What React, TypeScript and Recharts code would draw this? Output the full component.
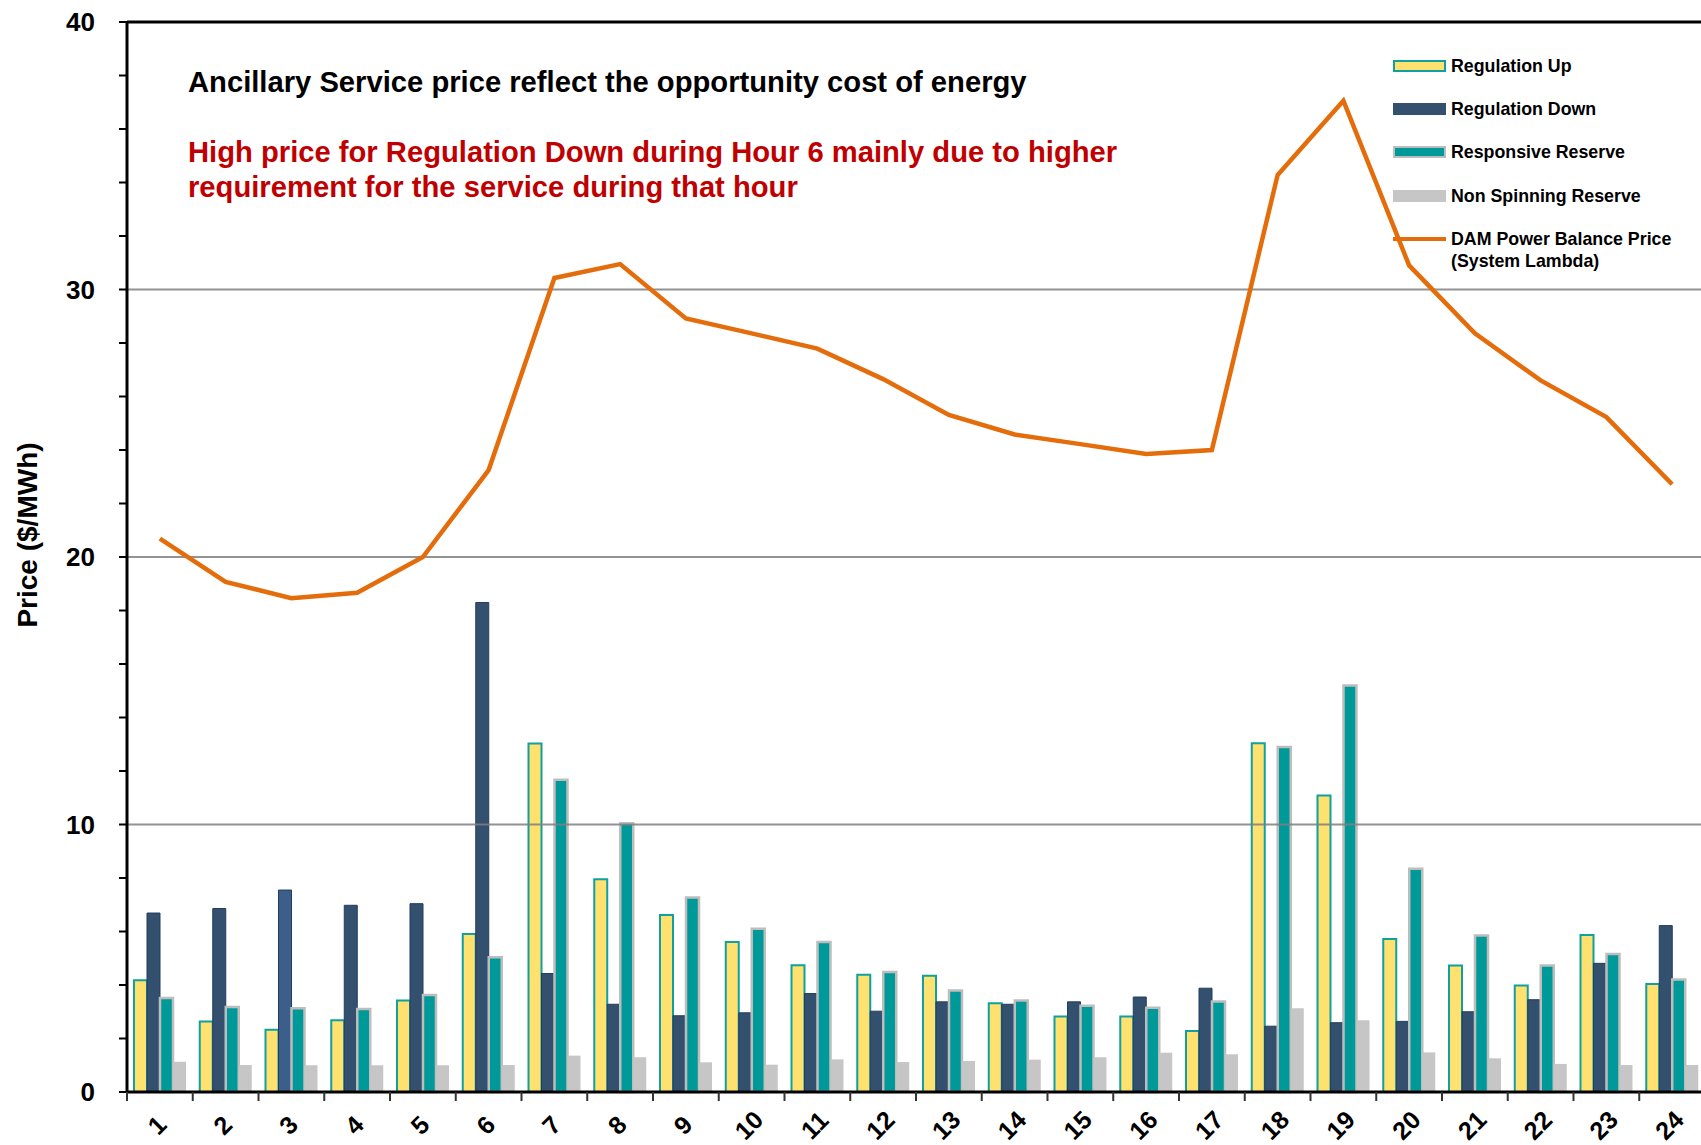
import React from "react";
import { ComposedChart, Bar, Line, XAxis, YAxis, ReferenceLine, Legend, Cell } from "recharts";

const hours = [1, 2, 3, 4, 5, 6, 7, 8, 9, 10, 11, 12, 13, 14, 15, 16, 17, 18, 19, 20, 21, 22, 23, 24];
const regUp = [4.18, 2.64, 2.33, 2.68, 3.42, 5.91, 13.03, 7.95, 6.62, 5.61, 4.74, 4.38, 4.35, 3.32, 2.82, 2.82, 2.28, 13.04, 11.08, 5.72, 4.73, 3.98, 5.87, 4.04];
const regDown = [6.69, 6.86, 7.55, 6.98, 7.04, 18.3, 4.43, 3.28, 2.85, 2.96, 3.68, 3.02, 3.37, 3.28, 3.37, 3.55, 3.88, 2.46, 2.59, 2.64, 3.0, 3.45, 4.81, 6.22];
const respReserve = [3.51, 3.18, 3.13, 3.1, 3.63, 5.04, 11.67, 10.05, 7.27, 6.1, 5.61, 4.49, 3.79, 3.42, 3.22, 3.15, 3.38, 12.9, 15.2, 8.35, 5.85, 4.73, 5.16, 4.21];
const nonSpin = [1.13, 1.01, 1.0, 1.0, 1.0, 1.01, 1.36, 1.3, 1.11, 1.02, 1.22, 1.12, 1.16, 1.21, 1.3, 1.47, 1.41, 3.13, 2.68, 1.48, 1.26, 1.05, 1.01, 1.01];
const systemLambda = [20.69, 19.07, 18.46, 18.66, 20.0, 23.25, 30.43, 30.95, 28.92, 28.36, 27.79, 26.65, 25.31, 24.58, 24.22, 23.85, 24.0, 34.28, 37.06, 30.9, 28.36, 26.6, 25.23, 22.72];

const yTicks = [0, 2, 4, 6, 8, 10, 12, 14, 16, 18, 20, 22, 24, 26, 28, 30, 32, 34, 36, 38, 40];
const yLabelTicks = [0, 10, 20, 30, 40];
const gridValues = [10, 20, 30];

const FONT = "'Liberation Sans', Arial, Helvetica, sans-serif";
const C_YELLOW = "#FFE16F";
const C_TEALBORDER = "#10A0A0";
const C_NAVY = "#33506F";
const C_NAVY_LIGHT = "#3B5F8A";
const C_TEAL = "#009999";
const C_GRAYBORDER = "#BDBDBD";
const C_GRAY = "#C6C6C6";
const C_ORANGE = "#E46C0A";

const data = hours.map((h, i) => ({
  hour: String(h),
  pos: i + 0.5,
  regUp: regUp[i],
  regDown: regDown[i],
  resp: respReserve[i],
  nonSpin: nonSpin[i],
  lambda: systemLambda[i],
}));

// boundaries (integers) get a tick mark, centres (x.5) get the hour label
const xTicks: number[] = [];
for (let i = 0; i <= 48; i++) xTicks.push(i / 2);

const XTick = (props: any) => {
  const { x, y, payload } = props;
  const v = payload.value;
  if (Number.isInteger(v)) {
    return <line x1={x} x2={x} y1={y} y2={y + 9} stroke="#333" strokeWidth={2} />;
  }
  const label = hours[Math.floor(v)];
  const cx = x - 3;
  const cy = y + 33;
  return (
    <text
      x={cx}
      y={cy}
      transform={`rotate(-45, ${cx}, ${cy})`}
      textAnchor="middle"
      dominantBaseline="central"
      fontSize={25}
      fontWeight="bold"
      fontFamily={FONT}
      fill="#000"
    >
      {label}
    </text>
  );
};

const YTick = (props: any) => {
  const { x, y, payload } = props;
  if (!yLabelTicks.includes(payload.value)) return <g />;
  return (
    <text x={x} y={y} textAnchor="end" dominantBaseline="central" fontSize={26} fontWeight="bold" fontFamily={FONT} fill="#000">
      {payload.value}
    </text>
  );
};

const legendItems = [
  { name: "Regulation Up", kind: "box", fill: C_YELLOW, border: C_TEALBORDER },
  { name: "Regulation Down", kind: "box", fill: C_NAVY, border: C_NAVY },
  { name: "Responsive Reserve", kind: "box", fill: C_TEAL, border: C_GRAYBORDER },
  { name: "Non Spinning Reserve", kind: "box", fill: C_GRAY, border: C_GRAY },
  { name: "DAM Power Balance Price\n(System Lambda)", kind: "line", fill: C_ORANGE, border: C_ORANGE },
];
const legendRowCenters = [26, 69, 112, 156, 199];

const LegendContent = () => (
  <div style={{ position: "relative", width: 310, height: 240, fontFamily: FONT }}>
    {legendItems.map((it, i) => {
      const lines = it.name.split("\n");
      return (
        <div key={it.name} style={{ position: "absolute", left: 0, top: legendRowCenters[i] - 11 }}>
          {it.kind === "box" ? (
            <div
              style={{
                position: "absolute",
                left: 0,
                top: 5,
                width: 49,
                height: 8,
                background: it.fill,
                border: `2px solid ${it.border}`,
              }}
            />
          ) : (
            <div style={{ position: "absolute", left: 0, top: 9, width: 53, height: 4, background: it.fill }} />
          )}
          <div
            style={{
              position: "absolute",
              left: 58,
              top: 0,
              whiteSpace: "nowrap",
              fontSize: 17.8,
              lineHeight: "22px",
              fontWeight: "bold",
              color: "#000",
            }}
          >
            {lines.map((l) => (
              <div key={l}>{l}</div>
            ))}
          </div>
        </div>
      );
    })}
  </div>
);

export default function App() {
  return (
    <div
      style={{
        position: "absolute",
        left: 0,
        top: 0,
        width: 1701,
        height: 1145,
        overflow: "hidden",
        background: "#fff",
        fontFamily: FONT,
      }}
    >
      <ComposedChart width={1705} height={1145} data={data} margin={{ top: 22, right: 0, bottom: 0, left: 0 }} barGap={0}>
        <XAxis xAxisId="cat" dataKey="hour" type="category" hide height={0} />
        <XAxis
          xAxisId="num"
          dataKey="pos"
          type="number"
          domain={[0, 24]}
          allowDataOverflow
          ticks={xTicks}
          interval={0}
          tickLine={false}
          tickSize={0}
          tickMargin={0}
          axisLine={{ stroke: "#000", strokeWidth: 3 }}
          height={53}
          tick={<XTick />}
        />
        <YAxis
          domain={[0, 40]}
          ticks={yTicks}
          interval={0}
          width={127}
          tickSize={8}
          tickMargin={24}
          tickLine={{ stroke: "#000", strokeWidth: 2 }}
          axisLine={{ stroke: "#000", strokeWidth: 3 }}
          tick={<YTick />}
          label={(p: any) => (
            <text
              x={27}
              y={535}
              transform="rotate(-90, 27, 535)"
              textAnchor="middle"
              dominantBaseline="central"
              fontSize={28}
              fontWeight="bold"
              fontFamily={FONT}
              fill="#000"
            >
              Price ($/MWh)
            </text>
          )}
        />
        {gridValues.map((v) => (
          <ReferenceLine key={v} y={v} xAxisId="num" stroke="#7F7F7F" strokeWidth={2} strokeOpacity={0.85} />
        ))}
        <ReferenceLine y={40} xAxisId="num" stroke="#000" strokeWidth={3} />
        <Bar xAxisId="cat" dataKey="regUp" name="Regulation Up" barSize={13} fill={C_YELLOW} stroke={C_TEALBORDER} strokeWidth={2} isAnimationActive={false} />
        <Bar xAxisId="cat" dataKey="regDown" name="Regulation Down" barSize={13} fill={C_NAVY} stroke="#233D5E" strokeWidth={1} isAnimationActive={false}>
          {data.map((d, i) => (
            <Cell key={d.hour} fill={i === 2 ? C_NAVY_LIGHT : C_NAVY} />
          ))}
        </Bar>
        <Bar xAxisId="cat" dataKey="resp" name="Responsive Reserve" barSize={13} fill={C_TEAL} stroke={C_GRAYBORDER} strokeWidth={2.5} isAnimationActive={false} />
        <Bar xAxisId="cat" dataKey="nonSpin" name="Non Spinning Reserve" barSize={13} fill={C_GRAY} isAnimationActive={false} />
        <Line
          xAxisId="num"
          type="linear"
          dataKey="lambda"
          name="DAM Power Balance Price (System Lambda)"
          stroke={C_ORANGE}
          strokeWidth={4.5}
          dot={false}
          activeDot={false}
          isAnimationActive={false}
        />
        <Legend
          layout="vertical"
          align="center"
          verticalAlign="middle"
          content={<LegendContent />}
          wrapperStyle={{ position: "absolute", left: 1393, top: 40, width: 310, height: 240 }}
        />
      </ComposedChart>
      <div
        style={{
          position: "absolute",
          left: 188,
          top: 65,
          fontSize: 29.2,
          lineHeight: "35px",
          fontWeight: "bold",
          color: "#000",
          whiteSpace: "nowrap",
        }}
      >
        Ancillary Service price reflect the opportunity cost of energy
      </div>
      <div
        style={{
          position: "absolute",
          left: 188,
          top: 135,
          fontSize: 29.2,
          lineHeight: "35px",
          fontWeight: "bold",
          color: "#C00000",
          whiteSpace: "nowrap",
        }}
      >
        <div>High price for Regulation Down during Hour 6 mainly due to higher</div>
        <div>requirement for the service during that hour</div>
      </div>
    </div>
  );
}
